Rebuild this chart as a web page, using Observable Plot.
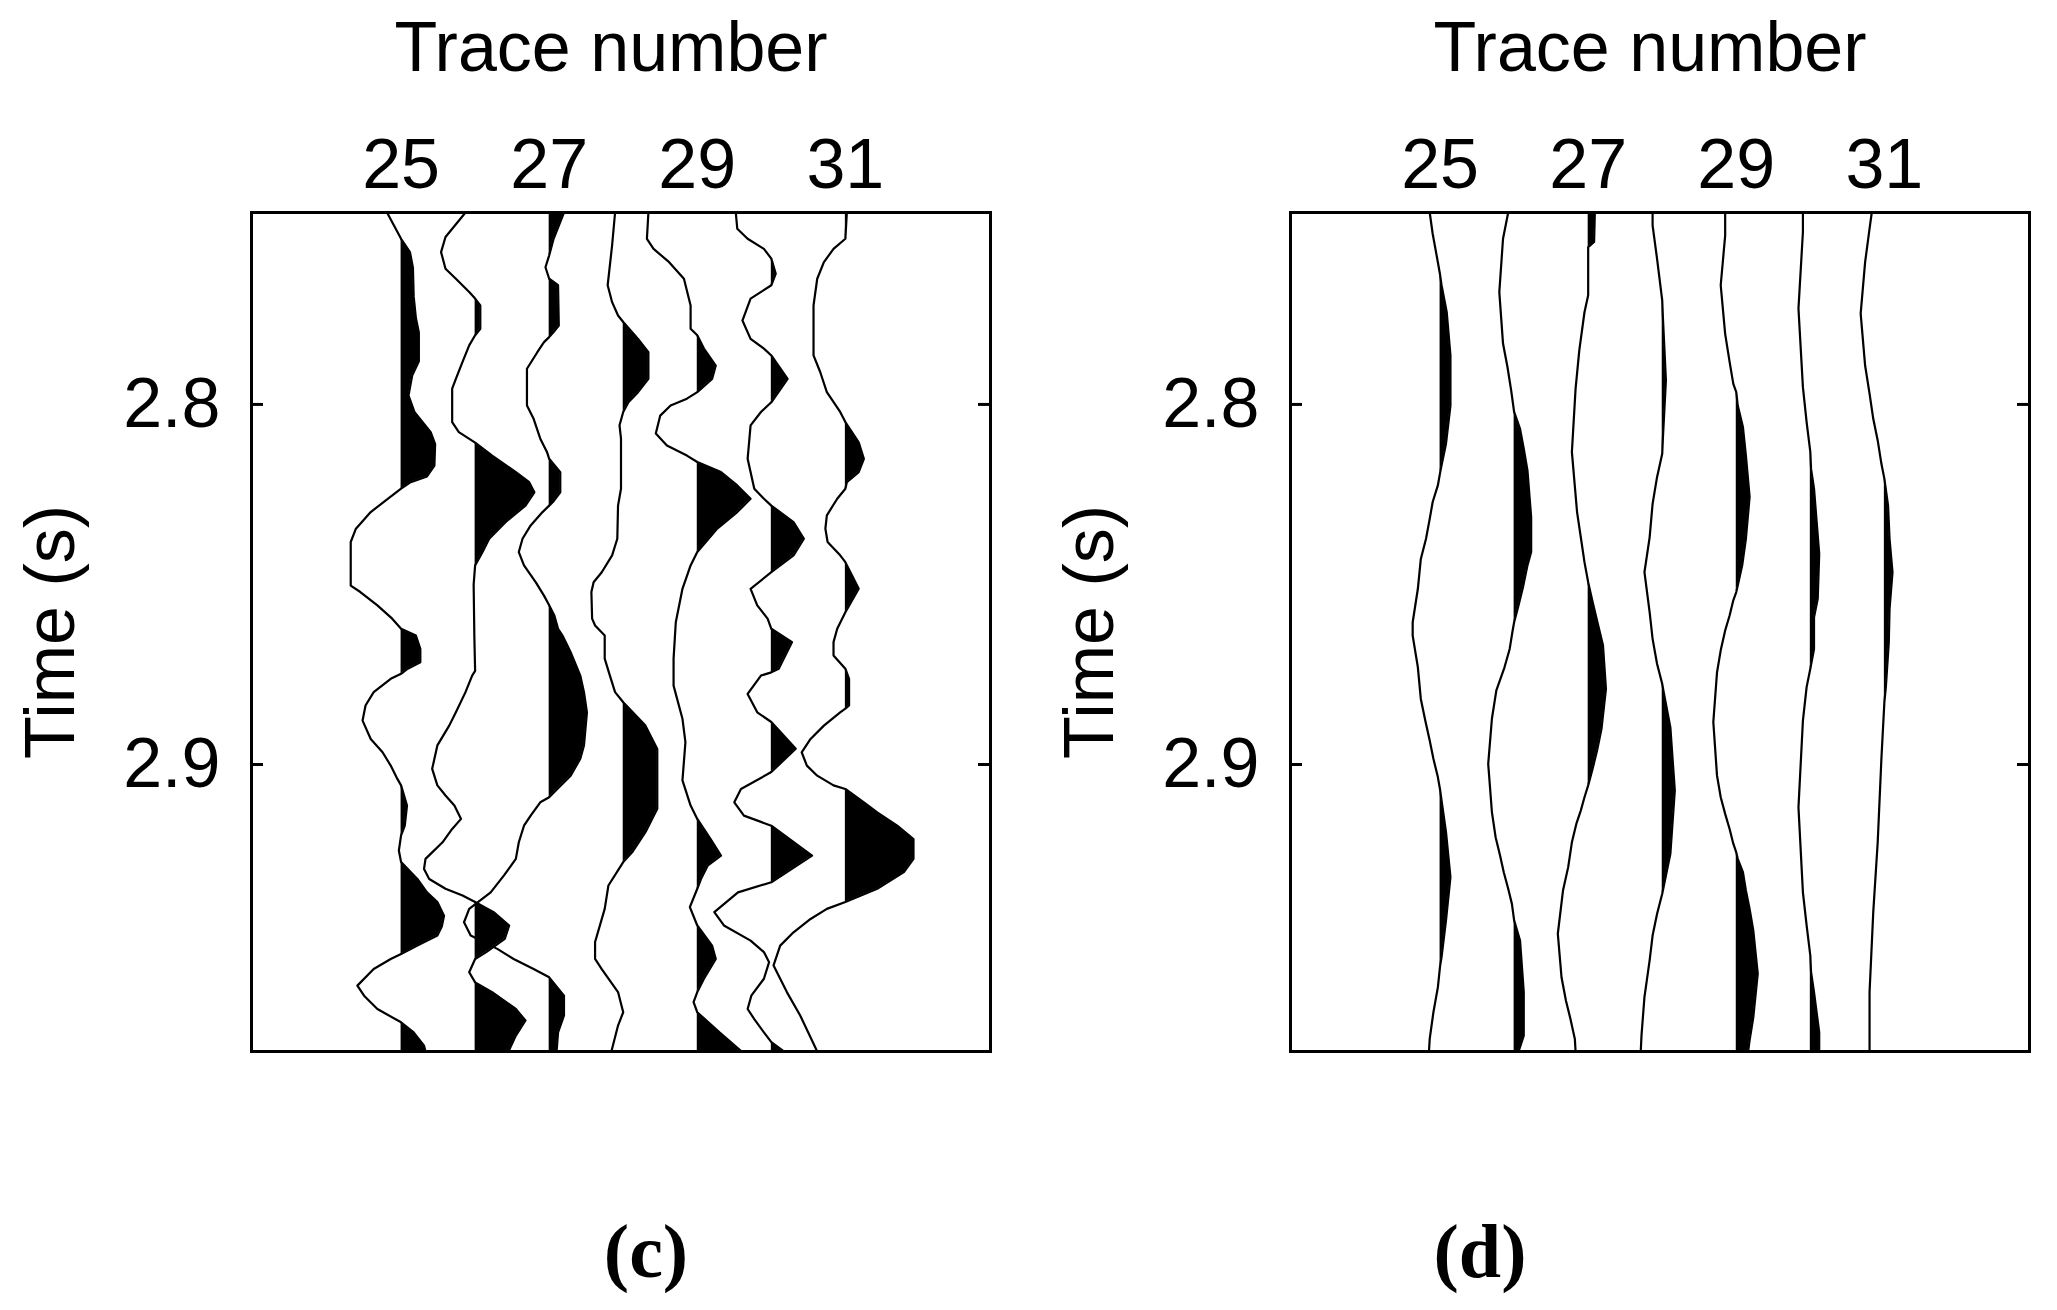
<!DOCTYPE html>
<html><head><meta charset="utf-8">
<script src="https://cdn.jsdelivr.net/npm/d3@7"></script>
<script src="https://cdn.jsdelivr.net/npm/@observablehq/plot@0.6"></script>
<style>
body{margin:0;background:#fff;}
#wrap{position:relative;width:2057px;height:1310px;overflow:hidden;background:#fff;}
.panel{position:absolute;top:0;}
.cap{position:absolute;top:1213px;font-family:"Liberation Serif","Times New Roman",serif;font-weight:bold;font-size:76px;line-height:1;transform:translateX(-50%);color:#000;white-space:nowrap;}
</style></head>
<body><div id="wrap">
<div id="pc" class="panel" style="left:0px;width:1028px;"></div>
<div id="pd" class="panel" style="left:1039px;width:1008px;"></div>
<div class="cap" style="left:646px;">(c)</div>
<div class="cap" style="left:1480px;">(d)</div>
</div>
<script>
// ---- data: [time (s), amplitude in trace-spacing units] ----
const traceNumbers = [25, 26, 27, 28, 29, 30, 31];
const xTicks = [25, 27, 29, 31];
const yTicks = [2.8, 2.9];
const xLabel = "Trace number";
const yLabel = "Time (s)";

const c25 = [[2.7467,-0.19],[2.7540,0],[2.7577,0.12],[2.7620,0.16],[2.7700,0.17],[2.7760,0.20],[2.7800,0.24],[2.7880,0.24],[2.7920,0.15],[2.7975,0.10],[2.8021,0.18],[2.8077,0.40],[2.8110,0.46],[2.8170,0.45],[2.8200,0.35],[2.8216,0.13],[2.8234,0],[2.8262,-0.18],[2.8299,-0.41],[2.8345,-0.61],[2.8382,-0.68],[2.8503,-0.68],[2.8521,-0.55],[2.8558,-0.32],[2.8595,-0.12],[2.8623,0],[2.8642,0.20],[2.8679,0.26],[2.8716,0.26],[2.8734,0.09],[2.8748,0],[2.8762,-0.14],[2.8799,-0.37],[2.8836,-0.48],[2.8878,-0.52],[2.8929,-0.41],[2.8966,-0.25],[2.9003,-0.14],[2.9040,-0.05],[2.9058,0],[2.9114,0.08],[2.9170,0.05],[2.9197,0],[2.9239,-0.03],[2.9271,0],[2.9318,0.22],[2.9355,0.35],[2.9382,0.49],[2.9420,0.58],[2.9450,0.55],[2.9475,0.49],[2.9503,0.22],[2.9526,0],[2.9540,-0.14],[2.9568,-0.37],[2.9614,-0.59],[2.9642,-0.50],[2.9679,-0.32],[2.9716,0],[2.9744,0.17],[2.9781,0.31],[2.9797,0.33]];
const c26 = [[2.7467,-0.13],[2.7535,-0.40],[2.7577,-0.46],[2.7623,-0.40],[2.7651,-0.26],[2.7688,-0.08],[2.7706,0],[2.7725,0.07],[2.7790,0.07],[2.7808,0],[2.7836,-0.08],[2.7882,-0.17],[2.7929,-0.26],[2.7956,-0.31],[2.8049,-0.31],[2.8077,-0.22],[2.8106,0],[2.8142,0.23],[2.8188,0.55],[2.8216,0.73],[2.8244,0.80],[2.8281,0.68],[2.8327,0.41],[2.8373,0.19],[2.8410,0.10],[2.8447,0],[2.8500,-0.02],[2.8650,-0.01],[2.8740,0],[2.8753,-0.04],[2.8799,-0.13],[2.8855,-0.26],[2.8892,-0.35],[2.8947,-0.51],[2.9012,-0.58],[2.9058,-0.51],[2.9086,-0.40],[2.9114,-0.28],[2.9151,-0.19],[2.9179,-0.31],[2.9216,-0.44],[2.9262,-0.67],[2.9290,-0.69],[2.9318,-0.62],[2.9345,-0.40],[2.9364,-0.17],[2.9382,0],[2.9410,0.25],[2.9447,0.46],[2.9484,0.40],[2.9521,0.15],[2.9540,0],[2.9577,-0.08],[2.9605,0],[2.9632,0.23],[2.9679,0.55],[2.9711,0.68],[2.9753,0.55],[2.9797,0.45]];
const c27 = [[2.7467,0.20],[2.7540,0.06],[2.7586,0],[2.7619,-0.05],[2.7651,0],[2.7669,0.12],[2.7781,0.13],[2.7799,0.06],[2.7813,0],[2.7827,-0.07],[2.7855,-0.16],[2.7901,-0.30],[2.8003,-0.30],[2.8040,-0.21],[2.8095,-0.12],[2.8132,-0.03],[2.8151,0],[2.8188,0.15],[2.8244,0.15],[2.8271,0.05],[2.8281,0],[2.8299,-0.09],[2.8336,-0.25],[2.8373,-0.36],[2.8410,-0.41],[2.8447,-0.34],[2.8494,-0.18],[2.8531,-0.07],[2.8558,0],[2.8586,0.07],[2.8623,0.12],[2.8642,0.18],[2.8688,0.29],[2.8753,0.42],[2.8799,0.47],[2.8855,0.51],[2.8947,0.47],[2.8984,0.42],[2.9031,0.29],[2.9068,0.11],[2.9091,0],[2.9105,-0.12],[2.9142,-0.25],[2.9170,-0.34],[2.9216,-0.41],[2.9262,-0.45],[2.9308,-0.61],[2.9355,-0.79],[2.9401,-1.08],[2.9438,-1.15],[2.9475,-1.06],[2.9512,-0.70],[2.9540,-0.48],[2.9568,-0.21],[2.9591,0],[2.9642,0.20],[2.9697,0.20],[2.9744,0.12],[2.9797,0.10]];
const c28 = [[2.7467,-0.11],[2.7558,-0.15],[2.7669,-0.21],[2.7716,-0.15],[2.7753,-0.07],[2.7771,0],[2.7818,0.20],[2.7855,0.34],[2.7929,0.34],[2.7966,0.20],[2.7994,0.07],[2.8021,0],[2.8058,-0.05],[2.8095,-0.03],[2.8234,-0.03],[2.8281,-0.07],[2.8373,-0.08],[2.8419,-0.15],[2.8466,-0.29],[2.8494,-0.40],[2.8521,-0.43],[2.8595,-0.42],[2.8614,-0.38],[2.8642,-0.25],[2.8706,-0.25],[2.8753,-0.18],[2.8799,-0.11],[2.8827,0],[2.8892,0.30],[2.8957,0.46],[2.9123,0.46],[2.9188,0.30],[2.9244,0.12],[2.9271,0],[2.9336,-0.20],[2.9401,-0.25],[2.9493,-0.38],[2.9540,-0.38],[2.9568,-0.29],[2.9632,-0.07],[2.9688,0],[2.9725,-0.07],[2.9797,-0.16]];
const c29 = [[2.7467,-0.66],[2.7540,-0.68],[2.7568,-0.59],[2.7605,-0.38],[2.7651,-0.18],[2.7725,-0.09],[2.7790,-0.09],[2.7808,0],[2.7845,0.09],[2.7892,0.25],[2.7929,0.20],[2.7966,0],[2.7984,-0.14],[2.8003,-0.36],[2.8031,-0.50],[2.8081,-0.56],[2.8114,-0.41],[2.8142,-0.14],[2.8160,0],[2.8188,0.32],[2.8225,0.54],[2.8262,0.72],[2.8299,0.54],[2.8345,0.27],[2.8410,0],[2.8447,-0.09],[2.8512,-0.20],[2.8605,-0.29],[2.8706,-0.32],[2.8781,-0.32],[2.8873,-0.20],[2.8938,-0.16],[2.9044,-0.20],[2.9114,-0.09],[2.9151,0],[2.9207,0.18],[2.9253,0.32],[2.9281,0.14],[2.9318,0.05],[2.9345,0],[2.9396,-0.10],[2.9447,0],[2.9503,0.20],[2.9540,0.25],[2.9595,0.09],[2.9632,0],[2.9660,-0.05],[2.9688,0],[2.9744,0.30],[2.9797,0.60]];
const c30 = [[2.7467,-0.48],[2.7512,-0.46],[2.7540,-0.32],[2.7568,-0.10],[2.7595,0],[2.7637,0.06],[2.7669,0],[2.7706,-0.28],[2.7767,-0.39],[2.7818,-0.28],[2.7845,-0.10],[2.7864,0],[2.7929,0.22],[2.7994,0],[2.8021,-0.14],[2.8058,-0.28],[2.8151,-0.32],[2.8234,-0.23],[2.8262,-0.10],[2.8281,0],[2.8327,0.30],[2.8373,0.44],[2.8419,0.30],[2.8466,0],[2.8512,-0.28],[2.8558,-0.19],[2.8595,-0.05],[2.8623,0],[2.8660,0.28],[2.8734,0.10],[2.8744,0],[2.8753,-0.14],[2.8804,-0.32],[2.8855,-0.19],[2.8882,0],[2.8956,0.33],[2.9021,0],[2.9068,-0.41],[2.9105,-0.50],[2.9142,-0.37],[2.9170,0],[2.9253,0.55],[2.9327,0],[2.9355,-0.45],[2.9410,-0.77],[2.9447,-0.64],[2.9489,-0.28],[2.9521,-0.10],[2.9549,-0.03],[2.9595,-0.10],[2.9642,-0.27],[2.9679,-0.32],[2.9707,-0.23],[2.9744,-0.10],[2.9771,0],[2.9797,0.17]];
const c31 = [[2.7467,0.02],[2.7540,0],[2.7568,-0.16],[2.7605,-0.29],[2.7651,-0.38],[2.7725,-0.43],[2.7864,-0.43],[2.7910,-0.34],[2.7966,-0.25],[2.8021,-0.07],[2.8049,0],[2.8105,0.18],[2.8151,0.25],[2.8188,0.18],[2.8216,0.02],[2.8234,0],[2.8262,-0.11],[2.8308,-0.25],[2.8345,-0.27],[2.8382,-0.24],[2.8419,-0.07],[2.8438,0],[2.8512,0.18],[2.8577,0],[2.8623,-0.11],[2.8660,-0.16],[2.8697,-0.16],[2.8734,0],[2.8762,0.05],[2.8836,0.05],[2.8845,0],[2.8855,-0.07],[2.8892,-0.29],[2.8929,-0.47],[2.8966,-0.59],[2.9003,-0.52],[2.9031,-0.38],[2.9058,-0.16],[2.9068,0],[2.9105,0.25],[2.9133,0.43],[2.9170,0.70],[2.9207,0.92],[2.9262,0.92],[2.9299,0.79],[2.9345,0.43],[2.9382,0],[2.9401,-0.25],[2.9429,-0.47],[2.9466,-0.70],[2.9503,-0.88],[2.9558,-0.97],[2.9632,-0.79],[2.9697,-0.61],[2.9797,-0.38]];

const d25 = [[2.7467,-0.14],[2.7526,-0.10],[2.7605,-0.03],[2.7640,0],[2.7669,0.02],[2.7744,0.09],[2.7864,0.14],[2.8003,0.14],[2.8109,0.08],[2.8169,0.02],[2.8190,0],[2.8225,-0.03],[2.8271,-0.10],[2.8318,-0.14],[2.8373,-0.19],[2.8429,-0.26],[2.8512,-0.30],[2.8605,-0.37],[2.8642,-0.37],[2.8730,-0.30],[2.8818,-0.26],[2.8878,-0.20],[2.8933,-0.14],[2.8984,-0.09],[2.9035,-0.03],[2.9070,0],[2.9100,0.02],[2.9188,0.08],[2.9313,0.14],[2.9433,0.08],[2.9535,0.02],[2.9560,0],[2.9619,-0.03],[2.9688,-0.09],[2.9762,-0.14],[2.9797,-0.15]];
const d26 = [[2.7467,-0.08],[2.7540,-0.15],[2.7688,-0.20],[2.7831,-0.15],[2.7896,-0.09],[2.7961,-0.04],[2.8021,0],[2.8068,0.08],[2.8123,0.13],[2.8183,0.18],[2.8313,0.23],[2.8410,0.23],[2.8447,0.18],[2.8507,0.12],[2.8558,0.06],[2.8605,0],[2.8628,-0.02],[2.8679,-0.06],[2.8730,-0.13],[2.8794,-0.24],[2.8873,-0.30],[2.8998,-0.35],[2.9132,-0.30],[2.9202,-0.25],[2.9253,-0.19],[2.9299,-0.14],[2.9345,-0.08],[2.9387,-0.03],[2.9433,0],[2.9489,0.08],[2.9632,0.13],[2.9753,0.13],[2.9797,0.06]];
const d27 = [[2.7467,0.09],[2.7549,0.08],[2.7563,0],[2.7697,0],[2.7744,-0.05],[2.7850,-0.12],[2.7956,-0.17],[2.8132,-0.22],[2.8299,-0.15],[2.8382,-0.09],[2.8438,-0.05],[2.8494,0],[2.8549,0.06],[2.8609,0.13],[2.8669,0.20],[2.8790,0.24],[2.8901,0.18],[2.8961,0.12],[2.9012,0.06],[2.9058,0],[2.9091,-0.05],[2.9128,-0.10],[2.9165,-0.16],[2.9216,-0.22],[2.9285,-0.27],[2.9350,-0.34],[2.9470,-0.41],[2.9591,-0.36],[2.9656,-0.30],[2.9706,-0.24],[2.9762,-0.18],[2.9797,-0.17]];
const d28 = [[2.7467,-0.13],[2.7503,-0.13],[2.7595,-0.07],[2.7711,0],[2.7762,0.01],[2.7933,0.05],[2.8090,0.01],[2.8137,0],[2.8202,-0.07],[2.8276,-0.13],[2.8369,-0.17],[2.8466,-0.24],[2.8577,-0.17],[2.8651,-0.13],[2.8720,-0.07],[2.8776,0],[2.8799,0.02],[2.8832,0.05],[2.8897,0.11],[2.9072,0.17],[2.9248,0.11],[2.9308,0.05],[2.9359,0],[2.9415,-0.07],[2.9475,-0.13],[2.9544,-0.17],[2.9646,-0.24],[2.9753,-0.28],[2.9797,-0.29]];
const d29 = [[2.7467,-0.15],[2.7531,-0.15],[2.7669,-0.21],[2.7804,-0.15],[2.7882,-0.09],[2.7943,-0.04],[2.7966,0],[2.8003,0.02],[2.8063,0.09],[2.8142,0.13],[2.8257,0.18],[2.8373,0.13],[2.8447,0.08],[2.8503,0.02],[2.8521,0],[2.8544,-0.04],[2.8586,-0.09],[2.8628,-0.15],[2.8683,-0.21],[2.8744,-0.26],[2.8882,-0.31],[2.9031,-0.26],[2.9091,-0.21],[2.9137,-0.15],[2.9179,-0.09],[2.9220,-0.04],[2.9244,0],[2.9262,0.02],[2.9299,0.09],[2.9350,0.13],[2.9401,0.18],[2.9461,0.23],[2.9581,0.29],[2.9702,0.23],[2.9766,0.18],[2.9797,0.16]];
const d30 = [[2.7467,-0.10],[2.7521,-0.10],[2.7734,-0.16],[2.7952,-0.10],[2.8049,-0.05],[2.8132,0],[2.8179,0.01],[2.8234,0.05],[2.8415,0.12],[2.8540,0.10],[2.8591,0.05],[2.8679,0.05],[2.8734,0],[2.8785,-0.05],[2.8878,-0.10],[2.9119,-0.16],[2.9355,-0.10],[2.9447,-0.05],[2.9531,0],[2.9577,0.01],[2.9632,0.05],[2.9744,0.12],[2.9797,0.12]];
const d31 = [[2.7467,-0.17],[2.7512,-0.20],[2.7605,-0.26],[2.7748,-0.32],[2.7892,-0.26],[2.7970,-0.20],[2.8040,-0.15],[2.8100,-0.09],[2.8165,-0.04],[2.8206,0],[2.8281,0.05],[2.8373,0.07],[2.8466,0.11],[2.8568,0.07],[2.8660,0.06],[2.8785,0.02],[2.8827,0],[2.8984,-0.04],[2.9216,-0.09],[2.9410,-0.15],[2.9632,-0.20],[2.9797,-0.20]];

const panelC = [c25, c26, c27, c28, c29, c30, c31];
const panelD = [d25, d26, d27, d28, d29, d30, d31];

// ---- drawing ----
const FW = 739; // frame width in px
function toRows(panel) {
  return panel.flatMap((pts, i) => pts.map(([t, amp]) => ({trace: traceNumbers[i], t, amp})));
}
function wiggle(panel, width, marginRight) {
  const rows = toRows(panel);
  return Plot.plot({
    width, height: 1100,
    marginTop: 212, marginLeft: 251, marginRight, marginBottom: 49,
    style: {fontFamily: "'Liberation Sans', Arial, sans-serif", fontSize: "70px", background: "white", color: "black"},
    x: {domain: [22.98, 32.96], axis: "top", ticks: xTicks, tickSize: 0, tickPadding: 25, tickFormat: d => String(d), label: null},
    y: {domain: [2.7467, 2.9797], reverse: true, ticks: yTicks, tickSize: 0, tickPadding: 31, tickFormat: d => d.toFixed(1), label: null},
    marks: [
      Plot.areaX(rows, {y: "t", x1: "trace", x2: d => d.trace + Math.max(0, d.amp), z: "trace", fill: "black", curve: "linear", clip: true}),
      Plot.line(rows, {x: d => d.trace + d.amp, y: "t", z: "trace", stroke: "black", strokeWidth: 2.2, curve: "linear", clip: true}),
      Plot.ruleY(yTicks, {y: d => d, insetRight: FW - 12, stroke: "black", strokeWidth: 3}),
      Plot.ruleY(yTicks, {y: d => d, insetLeft: FW - 12, stroke: "black", strokeWidth: 3}),
      Plot.frame({stroke: "black", strokeWidth: 3}),
      Plot.text([xLabel], {text: d => d, frameAnchor: "top", textAnchor: "middle", dx: -10, dy: -142, lineAnchor: "bottom", fontSize: 70, fill: "black"}),
      Plot.text([yLabel], {text: d => d, frameAnchor: "left", textAnchor: "middle", dx: -178, rotate: -90, lineAnchor: "bottom", fontSize: 70, fill: "black"})
    ]
  });
}
document.getElementById("pc").append(wiggle(panelC, 1028, 38));
document.getElementById("pd").append(wiggle(panelD, 1008, 18));
</script>
</body></html>
